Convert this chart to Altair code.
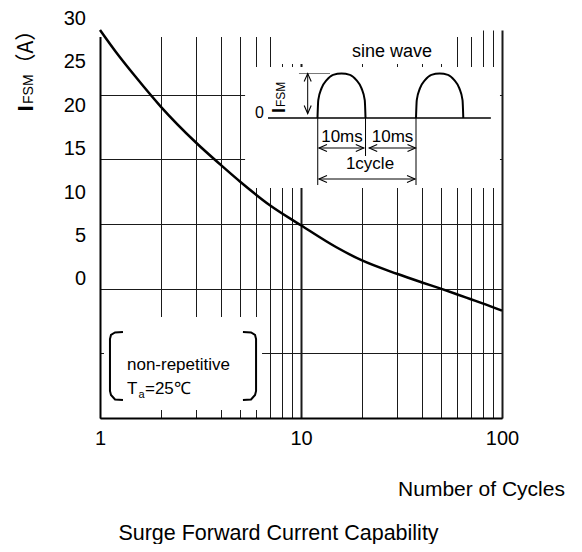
import altair as alt
import pandas as pd

FONT = "Liberation Sans"
CJK = "Noto Sans CJK SC"

# ---------------- main curve (cycles, A) ----------------
cycles = [1, 1.2, 1.5, 2, 3, 4, 5, 7, 10, 15, 20, 30, 40, 50, 60, 70, 80, 100]
ifsm = [30.0, 28.3, 26.4, 24.1, 21.3, 19.55, 18.25, 16.45, 14.9, 13.2, 12.2,
        11.15, 10.48, 9.98, 9.55, 9.18, 8.86, 8.30]

x_grid_values = [1, 2, 3, 4, 5, 6, 7, 8, 9, 10, 20, 30, 40, 50, 60, 70, 80, 90, 100]
x_label_values = [1, 10, 100]
y_grid_values = [0, 5, 10, 15, 20, 25]
y_label_values = [30, 25, 20, 15, 10, 5, 0]

# white areas hiding the grid behind the inset, the note and the top edge (cycles, A)
mask_x1 = [5.27, 7.51, 1.047, 0.98, 55.0]
mask_x2 = [97.7, 55.0, 6.40, 7.51, 75.3]
mask_y1 = [17.78, 27.37, 0.62, 29.46, 29.46]
mask_y2 = [27.14, 30.0, 7.81, 30.2, 30.2]

# note brackets (cycles, A)
brk_left_x = [1.301, 1.188, 1.134, 1.121, 1.121, 1.134, 1.188, 1.301]
brk_right_x = [5.142, 5.643, 5.907, 5.976, 5.976, 5.907, 5.643, 5.142]
brk_y = [6.650, 6.611, 6.418, 6.108, 2.088, 1.778, 1.430, 1.392]

note_big_text = ["non-repetitive", "T", "=25℃"]
note_big_x = [1.362, 1.362, 1.674]
note_big_y = [3.673, 1.856, 1.856]
note_sub_text = ["a"]
note_sub_x = [1.554]
note_sub_y = [1.585]

# ---------------- inset: time in ms (x), pulse height (y, 1 = IFSM) ----------------
hump_start = [0, 20]
hump_width = [9.75, 9.6]
hump_phase = [0, 0.016, 0.085, 0.19, 0.325, 0.5, 0.675, 0.81, 0.915, 0.984, 1.0]
hump_level = [0, 0.40, 0.67, 0.85, 0.97, 1.0, 0.97, 0.85, 0.67, 0.40, 0]

base_x1, base_x2, base_y = [-10.05], [35.2], [0]
peak_x1, peak_x2, peak_y = [-3.76], [2.54], [1.0]
seg_x1 = [-1.99, 0.05, 9.75, 20.0, 0.3, 10.5, 0.3]
seg_x2 = [-1.99, 0.05, 9.75, 20.0, 9.4, 19.9, 19.8]
seg_y1 = [1.0, 0, 0, 0, -0.674, -0.674, -1.371]
seg_y2 = [0.1, -1.506, -0.854, -1.506, -0.674, -0.674, -1.371]

arrow_x = [-1.99, -1.99, 0.3, 9.4, 10.5, 19.9, 0.3, 19.8]
arrow_y = [1.0, 0.1, -0.674, -0.674, -0.674, -0.674, -1.371, -1.371]
arrow_angle = [0, 180, 270, 90, 270, 90, 270, 90]

dim_text = ["10ms", "10ms", "1cycle"]
dim_x = [4.97, 15.23, 10.66]
dim_y = [-0.54, -0.54, -1.146]

# ---------------- tables ----------------
curve_df = pd.DataFrame({"x": cycles, "y": ifsm})
mask_df = pd.DataFrame({"x": mask_x1, "x2": mask_x2, "y": mask_y1, "y2": mask_y2})
brk_df = pd.DataFrame({
    "x": brk_left_x + brk_right_x,
    "y": brk_y + brk_y,
    "side": ["L"] * len(brk_y) + ["R"] * len(brk_y),
    "i": list(range(len(brk_y))) * 2,
})
note_big_df = pd.DataFrame({"x": note_big_x, "y": note_big_y, "t": note_big_text})
note_sub_df = pd.DataFrame({"x": note_sub_x, "y": note_sub_y, "t": note_sub_text})

hump_rows = []
for k, (s, w) in enumerate(zip(hump_start, hump_width)):
    for i, (p, lv) in enumerate(zip(hump_phase, hump_level)):
        hump_rows.append({"ms": s + p * w, "amp": lv, "h": k, "i": i})
hump_df = pd.DataFrame(hump_rows)

base_df = pd.DataFrame({"ms": base_x1, "ms2": base_x2, "amp": base_y})
peak_df = pd.DataFrame({"ms": peak_x1, "ms2": peak_x2, "amp": peak_y})
seg_df = pd.DataFrame({"ms": seg_x1, "ms2": seg_x2, "amp": seg_y1, "amp2": seg_y2})
arrow_df = pd.DataFrame({"ms": arrow_x, "amp": arrow_y, "a": arrow_angle})
dim_df = pd.DataFrame({"ms": dim_x, "amp": dim_y, "t": dim_text})
sine_df = pd.DataFrame({"ms": [15.13], "amp": [1.371], "t": ["sine wave"]})
zero_df = pd.DataFrame({"ms": [-11.78], "amp": [0.0], "t": ["0"]})
ii_df = pd.DataFrame({"ms": [-6.6], "amp": [0.112], "t": ["I"]})
fsm_df = pd.DataFrame({"ms": [-6.6], "amp": [0.247], "t": ["FSM"]})
ylab_df = pd.DataFrame({"v": y_label_values, "t": [str(v) for v in y_label_values]})
one = pd.DataFrame({"k": [0]})

# ---------------- scales & axes ----------------
xs = alt.Scale(type="log", domain=[1, 100])
ys = alt.Scale(domain=[0, 30])
x_axis = alt.Axis(
    values=x_grid_values,
    labelExpr=f"indexof({x_label_values}, datum.value) >= 0 ? format(datum.value, 'd') : ''",
    labelOverlap=False, labelFlush=False, labelBound=False,
    labelFont=FONT, labelFontSize=20, labelColor="black", labelPadding=10,
    ticks=False, domainColor="black", domainWidth=2,
    grid=True, gridColor="#1a1a1a",
    gridWidth={"condition": {"test": "datum.value == 10 || datum.value == 100", "value": 2}, "value": 1},
    title="Number of Cycles", titleFont=FONT, titleFontSize=21, titleFontWeight="normal",
    titleColor="black", titleX=381, titleY=77, titleAlign="center",
    titleBaseline="alphabetic", titleAngle=0,
)
y_axis = alt.Axis(values=y_grid_values, labels=False, ticks=False, title=None,
                  domainColor="black", domainWidth=2, grid=True, gridColor="#1a1a1a", gridWidth=1)


def MX(f):
    return alt.X(f"{f}:Q", scale=xs, axis=x_axis)


def MY(f):
    return alt.Y(f"{f}:Q", scale=ys, axis=y_axis)


ims = alt.Scale(domain=[-44.16, 37.46])
iamp = alt.Scale(domain=[-6.742, 1.978])


def IX(f):
    return alt.X(f"{f}:Q", scale=ims, axis=None)


def IY(f):
    return alt.Y(f"{f}:Q", scale=iamp, axis=None)


# ---------------- main group ----------------
masks = alt.Chart(mask_df).mark_rect(color="white").encode(
    x=MX("x"), x2="x2:Q", y=MY("y"), y2="y2:Q")
curve = alt.Chart(curve_df).mark_line(color="black", strokeWidth=2.5, interpolate="monotone").encode(
    x=MX("x"), y=MY("y"))
brackets = alt.Chart(brk_df).mark_line(color="black", strokeWidth=2).encode(
    x=MX("x"), y=MY("y"), detail="side:N", order="i:Q")
note_big = alt.Chart(note_big_df).mark_text(
    font=FONT, fontSize=17, align="left", baseline="alphabetic", color="black").encode(
    x=MX("x"), y=MY("y"), text="t:N")
note_sub = alt.Chart(note_sub_df).mark_text(
    font=FONT, fontSize=11, align="left", baseline="alphabetic", color="black").encode(
    x=MX("x"), y=MY("y"), text="t:N")
main = alt.layer(masks, curve, brackets, note_big, note_sub)

# ---------------- inset group ----------------
humps = alt.Chart(hump_df).mark_line(color="black", strokeWidth=2, interpolate="monotone").encode(
    x=IX("ms"), y=IY("amp"), detail="h:N", order="i:Q")
baseline = alt.Chart(base_df).mark_rule(color="black", strokeWidth=1.5).encode(
    x=IX("ms"), x2="ms2:Q", y=IY("amp"))
peak = alt.Chart(peak_df).mark_rule(color="#777", strokeWidth=1).encode(
    x=IX("ms"), x2="ms2:Q", y=IY("amp"))
segs = alt.Chart(seg_df).mark_rule(color="black", strokeWidth=1).encode(
    x=IX("ms"), x2="ms2:Q", y=IY("amp"), y2="amp2:Q")
arrows = alt.Chart(arrow_df).mark_point(
    shape="M-0.44,1L0,0L0.44,1", filled=False, color="black", strokeWidth=1.1, size=256, opacity=1).encode(
    x=IX("ms"), y=IY("amp"), angle=alt.Angle("a:Q", scale=None))
dims = alt.Chart(dim_df).mark_text(font=FONT, fontSize=17, align="center", baseline="alphabetic",
                                   color="black").encode(x=IX("ms"), y=IY("amp"), text="t:N")
sine = alt.Chart(sine_df).mark_text(font=FONT, fontSize=18, align="center", baseline="alphabetic",
                                    color="black").encode(x=IX("ms"), y=IY("amp"), text="t:N")
zero = alt.Chart(zero_df).mark_text(font=FONT, fontSize=16, align="center", baseline="alphabetic",
                                    color="black").encode(x=IX("ms"), y=IY("amp"), text="t:N")
ii = alt.Chart(ii_df).mark_text(font=FONT, fontSize=18, fontWeight="bold", angle=270, align="left",
                                baseline="alphabetic", color="black").encode(
    x=IX("ms"), y=IY("amp"), text="t:N")
fsm = alt.Chart(fsm_df).mark_text(font=FONT, fontSize=12, angle=270, align="left",
                                  baseline="alphabetic", color="black").encode(
    x=IX("ms"), y=IY("amp"), text="t:N")
inset = alt.layer(humps, baseline, peak, segs, arrows, dims, sine, zero, ii, fsm)

# ---------------- y tick labels (as printed, own scale) ----------------
ylabels = alt.Chart(ylab_df).mark_text(font=FONT, fontSize=20, align="right", baseline="middle",
                                       color="black").encode(
    x=alt.value(-14),
    y=alt.Y("v:Q", scale=alt.Scale(domain=[-15.95, 28.733]), axis=None),
    text="t:N")

# ---------------- titles ----------------
yt_i = alt.Chart(one).mark_text(text="I", font=FONT, fontSize=22, fontWeight="bold", angle=270,
                                align="left", baseline="alphabetic", color="black").encode(
    x=alt.value(-67), y=alt.value(81.5))
yt_fsm = alt.Chart(one).mark_text(text="FSM", font=FONT, fontSize=14, angle=270,
                                  align="left", baseline="alphabetic", color="black").encode(
    x=alt.value(-67), y=alt.value(74))
yt_a = alt.Chart(one).mark_text(text="（A）", font=CJK, fontSize=21, angle=270,
                                align="left", baseline="alphabetic", color="black").encode(
    x=alt.value(-67), y=alt.value(44.5))
bottom_title = alt.Chart(one).mark_text(text="Surge Forward Current Capability", font=FONT,
                                        fontSize=21.5, align="center", baseline="alphabetic",
                                        color="black").encode(
    x=alt.value(178.5), y=alt.value(510))

chart = alt.layer(main, inset, ylabels, yt_i, yt_fsm, yt_a, bottom_title).resolve_scale(
    x="independent", y="independent"
).properties(
    width=402, height=388,
    autosize=alt.AutoSizeParams(type="none"),
    padding={"left": 92, "top": 22, "right": 72, "bottom": 126},
    background="white",
).configure_view(stroke=None)

chart.save("out.html", embed_options={"renderer": "svg", "actions": False})
